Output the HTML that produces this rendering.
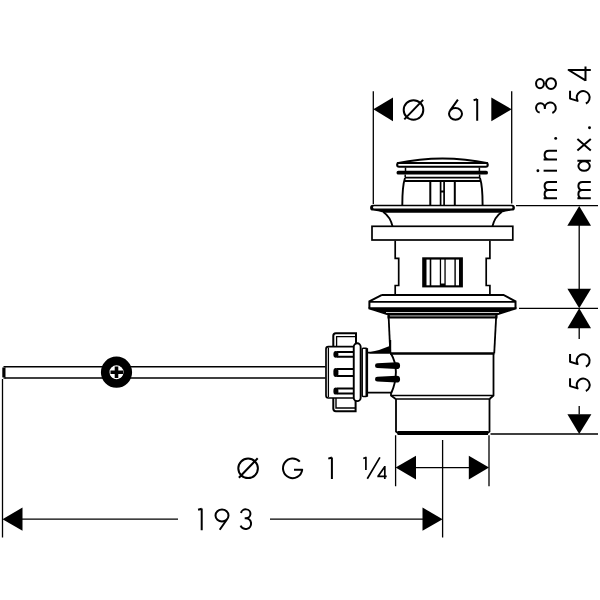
<!DOCTYPE html>
<html><head><meta charset="utf-8">
<style>
html,body{margin:0;padding:0;background:#fff;}
svg{display:block;}
</style></head><body>
<svg width="600" height="600" viewBox="0 0 600 600">
<rect width="600" height="600" fill="#fff"/>
<g fill="none" stroke="#000" stroke-linecap="butt" stroke-linejoin="miter">
<!-- ===== dimension lines ===== -->
<g stroke-width="1.3">
<path d="M373.3,91.3 V204 M511.7,91.3 V203.5"/>
<path d="M516,205.6 H598 M519,308.3 H598 M490.5,434 H598"/>
<path d="M579.2,225 V289 M579.2,328 V339 M579.2,406 V414.5"/>
<path d="M395.6,435.3 V486.3 M489,435.3 V486.3 M442.6,440 V537.5"/>
<path d="M416,467.6 H469"/>
<path d="M2.5,379 V537.5 M22,519.2 H178 M270,519.2 H423"/>
</g>
<g fill="#000" stroke="none">
<path d="M373.3,109.3 L393,97.4 L393,121.3 Z"/>
<path d="M511.7,109.3 L491.3,97.4 L491.3,121.3 Z"/>
<path d="M579.2,206 L567.3,225.8 L591,225.8 Z"/>
<path d="M579.2,308.3 L567.4,288.7 L591,288.7 Z"/>
<path d="M579.2,308.3 L567.4,328.3 L591,328.3 Z"/>
<path d="M579.2,434 L567.4,414.2 L591.4,414.2 Z"/>
<path d="M395.6,467.6 L416,455.8 L416,479.6 Z"/>
<path d="M489,467.6 L468.8,455.8 L468.8,479.6 Z"/>
<path d="M2.5,519.2 L22.5,507.5 L22.5,530.8 Z"/>
<path d="M442.6,519.2 L422.5,507.5 L422.5,530.8 Z"/>
</g>

<!-- ===== cap ===== -->
<path d="M397,163.3 Q442.5,153.9 488,163.3" stroke-width="2"/>
<rect x="397.1" y="162.9" width="90.7" height="3.9" rx="1.95" stroke-width="2" fill="#fff"/>
<path d="M405.5,167.5 V171 M479.4,167.5 V171 M405.2,174.4 V177.5 M479.6,174.4 V177.5" stroke-width="1.5"/>
<rect x="396.5" y="170.8" width="91.5" height="3.7" rx="1.85" fill="#000" stroke="none"/>
<path d="M405,177.7 H480.3" stroke-width="1.7"/>
<path d="M404.5,181 H480.8" stroke-width="1.8"/>
<path d="M405,178 Q402.3,186 402.3,205 M480,178 Q482.6,186 482.6,205" stroke-width="1.9"/>
<path d="M430.3,182 V205 M454.8,182 V205" stroke-width="2"/>
<path d="M440.6,182 V205 M444.1,182 V205" stroke-width="1.7"/>
<path d="M440.6,191.5 H444.1" stroke-width="2"/>

<!-- ===== upper flange ===== -->
<path d="M373,204.8 H512 A2.9,2.9 0 0 1 512,210.6 Q507,211.2 501,212.7 H384 Q378,211.2 373,210.6 A2.9,2.9 0 0 1 373,204.8 Z" fill="#000" stroke="none"/>
<rect x="373" y="206.3" width="139.5" height="2.3" rx="1.1" fill="#fff" stroke="none"/>
<path d="M383.3,212 Q390.3,216.8 392.6,226.5 M501.7,212 Q494.7,216.8 492.4,226.5" stroke-width="1.8"/>
<rect x="372" y="226.3" width="140.8" height="13.7" stroke-width="1.7"/>

<!-- ===== upper body ===== -->
<path d="M395.2,240.8 V258.3 H398.7 V285.5 H395.2 V295" stroke-width="1.7"/>
<path d="M489.9,240.8 V258.3 H486.2 V285.5 H489.9 V295" stroke-width="1.7"/>
<rect x="422.2" y="257.3" width="40.7" height="30.1" fill="#000" stroke="none"/>
<g fill="#fff" stroke="none">
<rect x="426.5" y="259.6" width="3.2" height="25.7"/>
<rect x="431.3" y="259.6" width="8.5" height="25.7"/>
<rect x="441.1" y="259.6" width="3.3" height="23.9"/>
<rect x="445.7" y="259.6" width="8.7" height="25.7"/>
<rect x="455.8" y="259.6" width="3.2" height="25.7"/>
</g>

<!-- ===== lower flange ===== -->
<path d="M382,294.9 H503.5 L515.5,301.3 V308.5 M382,294.9 L369.4,301.3 V308.5" stroke-width="2"/>
<path d="M369.4,301.9 H515.5" stroke-width="1.6"/>
<path d="M368.5,307.3 H516.5 V309.3 L511.5,310.8 L497.5,315.3 V318.6 H387.5 V315.3 L373.5,310.8 L368.5,309.3 Z" fill="#000" stroke="none"/>
<rect x="386" y="312.0" width="113" height="0.8" fill="#fff" stroke="none"/>
<rect x="389.8" y="315.2" width="105.5" height="1.4" fill="#888" stroke="none"/>

<!-- ===== lower body ===== -->
<path d="M388.6,316 L390.3,353" stroke-width="1.8"/>
<path d="M496.2,316 L494.2,353.5" stroke-width="1.8"/>
<path d="M390,353.6 H494.3" stroke-width="2.5"/>
<path d="M493.5,353.6 V395.5 L489.5,399 M391,392.5 V395.5 L395.7,399" stroke-width="1.8"/>
<path d="M391,395.5 H493.5" stroke-width="1.6"/>
<path d="M395.7,399 H489.5" stroke-width="1.6"/>
<path d="M396,399 V431.5 L398,433.2 H487.5 L489.5,431.5 V399" stroke-width="1.8"/>
<path d="M397.5,433.1 H488" stroke-width="4"/>

<!-- ===== side connection ===== -->
<!-- rod -->
<path d="M325.5,366.7 H5.5 M325.5,378 H5.5" stroke-width="1.5"/>
<path d="M3.9,367.5 V377.4" stroke-width="3.2"/>
<path d="M3.5,366.7 H6 M3.5,378 H6" stroke-width="1.5"/>
<!-- screw circle -->
<circle cx="116.5" cy="372.2" r="7.2" fill="#fff" stroke="none"/>
<circle cx="116.5" cy="372.2" r="11.3" stroke-width="8.6"/>
<path d="M110.5,372.25 H123 M116.5,366.4 V378.1" stroke-width="3.6"/>
<!-- nut upper tab -->
<path d="M333.3,346 V335.8 Q333.3,333.3 335.8,333.3 H356 V343" stroke-width="2" fill="#fff"/>
<path d="M336.6,346 V336.6 H355.3" stroke-width="1.3"/>
<!-- nut lower tab -->
<path d="M333.3,398 V408.6 Q333.3,411.2 335.8,411.2 H355.6 V401" stroke-width="2" fill="#fff"/>
<path d="M336,398 V408 H355" stroke-width="1.4"/>
<!-- nut body -->
<path d="M353,346.6 H328.4 Q326,346.6 326,349 V395.6 Q326,398 328.4,398 H353" stroke-width="1.7" fill="#fff"/>
<path d="M328.4,347.5 V397" stroke-width="1.3"/>
<!-- slots -->
<g stroke-width="2">
<path d="M353.5,352.0 H337 M353.5,356.8 H337"/>
<path d="M353.5,369.1 H337 M353.5,375.9 H337"/>
<path d="M353.5,388.6 H337 M353.5,393.6 H337"/>
</g>
<g fill="#000" stroke="none">
<rect x="333.4" y="351.0" width="5" height="6.8" rx="3" ry="3.2"/>
<rect x="333.4" y="368.1" width="5" height="8.8" rx="3" ry="3.2"/>
<rect x="333.4" y="387.6" width="5" height="7.0" rx="3" ry="3.2"/>
</g>
<!-- collar -->
<rect x="353.75" y="343.3" width="6.9" height="57.8" rx="3.45" stroke-width="1.9" fill="#fff"/>
<!-- ring -->
<rect x="362.2" y="348.3" width="4.9" height="48.3" rx="1" stroke-width="1.5" fill="#fff"/>
<path d="M366.8,348.3 V396.6" stroke-width="2.6"/>
<!-- pipe stub -->
<path d="M367.7,352.6 H390.5 M367.7,392.6 H391.5" stroke-width="1.8"/>
<path d="M369.5,353.4 L369.5,352.2 Q380,350.3 389,346.2 L391,346.2 L391,353.4 Z" fill="#000" stroke="none"/>
<path d="M390.8,353.2 Q396,362 395.9,372 Q395.8,383 391.3,393" stroke-width="1.9"/>
<g fill="#000" stroke="none">
<path d="M377.4,363.3 L396.7,362.3 A3.4,3.4 0 0 1 396.7,369.1 L377.4,368.1 A2.4,2.4 0 0 1 377.4,363.3 Z"/>
<path d="M377.4,376.8 L396.7,375.8 A3.4,3.4 0 0 1 396.7,382.6 L377.4,381.6 A2.4,2.4 0 0 1 377.4,376.8 Z"/>
</g>
<!-- upper body left edge above pipe -->
<path d="M390.3,340 V353" stroke-width="1.8"/>

</g>
<g fill="none" stroke="#000" stroke-linecap="butt" stroke-linejoin="round">
<path transform="translate(402.7,120.7)" d="M1,-10.75 a9.8,9.75 0 1,0 19.6,0 a9.8,9.75 0 1,0 -19.6,0 M1.6,-1.3 L20.4,-20.8" stroke-width="2"/>
<path transform="translate(448,120.7)" d="M9.9,-21 L2.04,-10.02 M1,-6.85 a6.5,5.85 0 1,0 13,0 a6.5,5.85 0 1,0 -13,0" stroke-width="2"/>
<path transform="translate(473.3,120.7)" d="M0.3,-20.5 L3.9,-21.6 M3.9,-21.7 V0" stroke-width="2"/>
<path transform="translate(557,199.3) rotate(-90)" d="M1,0 V-13.4 M1,-8.3 C1,-11.2 2.6,-12.4 5.1,-12.4 C7.6,-12.4 9.2,-11.2 9.2,-8.3 V0 M9.2,-8.3 C9.2,-11.2 10.8,-12.4 13.3,-12.4 C15.8,-12.4 17.4,-11.2 17.4,-8.3 V0" stroke-width="2"/>
<path transform="translate(557,171.7) rotate(-90)" d="M1,0 V-13.4" stroke-width="2"/><circle transform="translate(557,171.7) rotate(-90)" cx="1" cy="-19.1" r="1.45" fill="#000" stroke="none"/>
<path transform="translate(557,160.4) rotate(-90)" d="M1,0 V-13.4 M1,-8.0 C1,-11.2 2.8,-12.4 5.35,-12.4 C7.9,-12.4 9.7,-11.2 9.7,-8.0 V0" stroke-width="2"/>
<circle transform="translate(557,139.7) rotate(-90)" cx="1.3" cy="-1.3" r="1.45" fill="#000" stroke="none"/>
<path transform="translate(557,114.6) rotate(-90)" d="M2.02,-17.31 A4.75,4.4 0 1,1 6.7,-12.15 A5.45,5.45 0 1,1 1.58,-4.64 M6.7,-12.15 h-1.0" stroke-width="2"/>
<path transform="translate(557,90) rotate(-90)" d="M1.8,-17 a4.6,3.95 0 1,0 9.2,0 a4.6,3.95 0 1,0 -9.2,0 M1,-6 a5.4,5 0 1,0 10.8,0 a5.4,5 0 1,0 -10.8,0" stroke-width="2"/>
<path transform="translate(590.8,199.3) rotate(-90)" d="M1,0 V-13.4 M1,-8.3 C1,-11.2 2.6,-12.4 5.1,-12.4 C7.6,-12.4 9.2,-11.2 9.2,-8.3 V0 M9.2,-8.3 C9.2,-11.2 10.8,-12.4 13.3,-12.4 C15.8,-12.4 17.4,-11.2 17.4,-8.3 V0" stroke-width="2"/>
<path transform="translate(590.8,171.7) rotate(-90)" d="M0.85,-6.7 a4.75,5.7 0 1,0 9.5,0 a4.75,5.7 0 1,0 -9.5,0 M11,-13.4 V0" stroke-width="2"/>
<path transform="translate(590.8,151.2) rotate(-90)" d="M0.7,-13.4 L12.1,0 M12.1,-13.4 L0.7,0" stroke-width="2"/>
<circle transform="translate(590.8,129.1) rotate(-90)" cx="1.3" cy="-1.3" r="1.45" fill="#000" stroke="none"/>
<path transform="translate(590.8,105) rotate(-90)" d="M14.3,-20.75 H6.4 L4.1,-13.2 A6.5,6.5 0 1,1 1.52,-4.96" stroke-width="2"/>
<path transform="translate(590.8,81) rotate(-90)" d="M11,0 V-22.2 L0.7,-5.3 M0,-5.3 H14.6" stroke-width="2"/>
<path transform="translate(590.8,392.5) rotate(-90)" d="M14.3,-20.75 H6.4 L4.1,-13.2 A6.5,6.5 0 1,1 1.52,-4.96" stroke-width="2"/>
<path transform="translate(590.8,368.2) rotate(-90)" d="M14.3,-20.75 H6.4 L4.1,-13.2 A6.5,6.5 0 1,1 1.52,-4.96" stroke-width="2"/>
<path transform="translate(237.3,479.1)" d="M1,-10.75 a9.8,9.75 0 1,0 19.6,0 a9.8,9.75 0 1,0 -19.6,0 M1.6,-1.3 L20.4,-20.8" stroke-width="2"/>
<path transform="translate(282,479.1)" d="M17.82,-17.44 A9.65,9.85 0 1,0 20.18,-9.3 H12" stroke-width="2"/>
<path transform="translate(328,479.1)" d="M0.3,-20.5 L3.9,-21.6 M3.9,-21.7 V0" stroke-width="2"/>
<path d="M363.3,458.6 L365.9,457.4 V470.1 M367.3,478.8 L379.9,457.4 M384.8,478.9 V465.9 M384.9,466.4 L377.9,476.4 M377.3,476.4 H386.7" stroke-width="1.7"/>
<path transform="translate(197.8,530.3)" d="M0.3,-20.5 L3.9,-21.6 M3.9,-21.7 V0" stroke-width="2"/>
<path transform="translate(214.5,530.3)" d="M5.2,-0.5 L12.95,-11.53 M1,-14.8 a6.5,6 0 1,0 13,0 a6.5,6 0 1,0 -13,0" stroke-width="2"/>
<path transform="translate(239,530.3)" d="M2.02,-17.31 A4.75,4.4 0 1,1 6.7,-12.15 A5.45,5.45 0 1,1 1.58,-4.64 M6.7,-12.15 h-1.0" stroke-width="2"/>
</g>
</svg>
</body></html>
